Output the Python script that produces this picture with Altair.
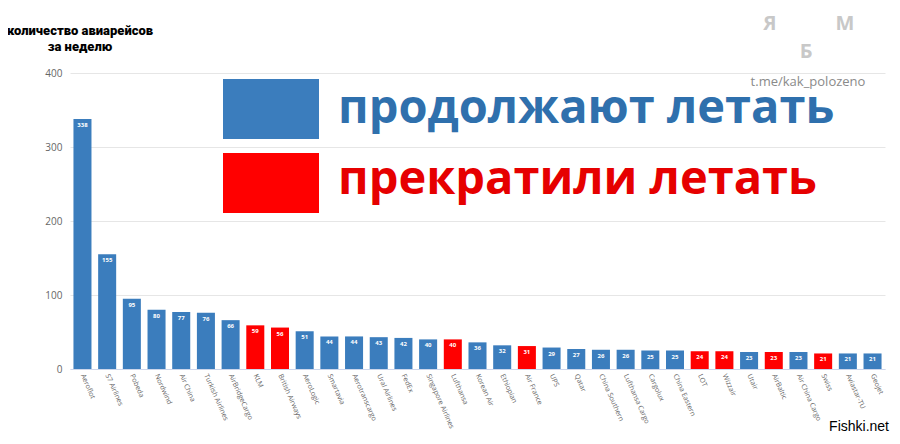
import altair as alt
import pandas as pd

airlines = ["Aeroflot", "S7 Airlines", "Pobeda", "Nordwind", "Air China", "Turkish Airlines",
            "AirBridgeCargo", "KLM", "British Airways", "AeroLogic", "Smartavia", "Aerotranscargo",
            "Ural Airlines", "FedEx", "Singapore Airlines", "Lufthansa", "Korean Air", "Ethiopian",
            "Air France", "UPS", "Qatar", "China Southern", "Lufthansa Cargo", "Cargolux",
            "China Eastern", "LOT", "Wizzair", "Utair", "AirBaltic", "Air China Cargo", "Swiss",
            "Aviastar-TU", "Geojet"]
flights = [338, 155, 95, 80, 77, 76, 66, 59, 56, 51, 44, 44, 43, 42, 40, 40, 36, 32, 31, 29,
           27, 26, 26, 25, 25, 24, 24, 23, 23, 23, 21, 21, 21]
stopped = ["KLM", "British Airways", "Lufthansa", "Air France", "LOT", "Wizzair", "AirBaltic", "Swiss"]
status_labels = ["продолжают летать", "прекратили летать"]
status_colors = ["#3b7dbd", "#ff0000"]

df = pd.DataFrame({
    "airline": airlines,
    "flights": flights,
    "status": [status_labels[1] if a in stopped else status_labels[0] for a in airlines],
})

x = alt.X("airline:N", sort=airlines, title=None,
          scale=alt.Scale(paddingInner=0.27, paddingOuter=0.14),
          axis=alt.Axis(labelAngle=66, labelFontSize=7, labelColor="#666666",
                        labelFont="Open Sans", domainColor="#ccd6eb", ticks=False,
                        labelPadding=5, labelLimit=150))
y = alt.Y("flights:Q", title=None, scale=alt.Scale(domain=[0, 400]),
          axis=alt.Axis(values=[0, 100, 200, 300, 400], labelFontSize=10, labelColor="#666666",
                        labelFont="Open Sans", domain=False, ticks=False, labelPadding=8,
                        gridColor="#e6e6e6"))
color = alt.Color("status:N", scale=alt.Scale(domain=status_labels, range=status_colors), legend=None)

bars = alt.Chart(df).mark_bar().encode(x=x, y=y, color=color)
vals = alt.Chart(df).mark_text(color="white", fontSize=6, dy=6, baseline="middle",
                               font="Open Sans", fontWeight="bold").encode(
    x=alt.X("airline:N", sort=airlines), y="flights:Q", text="flights:Q")

leg_df = pd.DataFrame({"label": status_labels, "color": status_colors})
leg_blue = alt.Chart(leg_df.iloc[[0]]).mark_rect(color=status_colors[0]).encode(
    x=alt.value(153), x2=alt.value(249), y=alt.value(6), y2=alt.value(66))
leg_red = alt.Chart(leg_df.iloc[[1]]).mark_rect(color=status_colors[1]).encode(
    x=alt.value(153), x2=alt.value(249), y=alt.value(80), y2=alt.value(140))
txt_blue = alt.Chart(leg_df.iloc[[0]]).mark_text(
    color="#2f70ad", fontSize=47, font="Open Sans", fontWeight="bold",
    align="left", baseline="alphabetic").encode(
    x=alt.value(268), y=alt.value(50), text="label:N")
txt_red = alt.Chart(leg_df.iloc[[1]]).mark_text(
    color="#e60000", fontSize=47, font="Open Sans", fontWeight="bold",
    align="left", baseline="alphabetic").encode(
    x=alt.value(268), y=alt.value(121), text="label:N")

title_df = pd.DataFrame({"t": ["количество авиарейсов", "за неделю"]})
title1 = alt.Chart(title_df.iloc[[0]]).mark_text(
    fontSize=13, font="Roboto", fontWeight=900, color="black",
    align="center", baseline="middle").encode(x=alt.value(10), y=alt.value(-42), text="t:N")
title2 = alt.Chart(title_df.iloc[[1]]).mark_text(
    fontSize=13, font="Roboto", fontWeight=900, color="black",
    align="center", baseline="middle").encode(x=alt.value(10), y=alt.value(-26), text="t:N")

wm_df = pd.DataFrame({"t": ["t.me/kak_polozeno", "Я", "М", "Б", "Fishki.net"]})
wm_url = alt.Chart(wm_df.iloc[[0]]).mark_text(
    fontSize=13, font="Open Sans", color="#8a8a8a", align="center", baseline="middle").encode(
    x=alt.value(738), y=alt.value(9), text="t:N")
wm_y = alt.Chart(wm_df.iloc[[1]]).mark_text(
    fontSize=20, font="Open Sans", fontWeight="bold", color="#c8c8c8", baseline="middle").encode(
    x=alt.value(700), y=alt.value(-49), text="t:N")
wm_m = alt.Chart(wm_df.iloc[[2]]).mark_text(
    fontSize=20, font="Open Sans", fontWeight="bold", color="#c8c8c8", baseline="middle").encode(
    x=alt.value(775), y=alt.value(-49), text="t:N")
wm_b = alt.Chart(wm_df.iloc[[3]]).mark_text(
    fontSize=20, font="Open Sans", fontWeight="bold", color="#c8c8c8", baseline="middle").encode(
    x=alt.value(736), y=alt.value(-21), text="t:N")
fishki = alt.Chart(wm_df.iloc[[4]]).mark_text(
    fontSize=14, font="Liberation Sans", color="black", align="right", baseline="middle").encode(
    x=alt.value(819), y=alt.value(354), text="t:N")

chart = alt.layer(bars, vals, leg_blue, leg_red, txt_blue, txt_red, title1, title2,
                  wm_url, wm_y, wm_m, wm_b, fishki).properties(
    width=815, height=296,
    autosize=alt.AutoSizeParams(type="none"),
    padding={"left": 62, "top": 65, "right": 7, "bottom": 67},
).configure_view(stroke=None)

chart.save("out.html", embed_options={"renderer": "svg", "actions": False})
